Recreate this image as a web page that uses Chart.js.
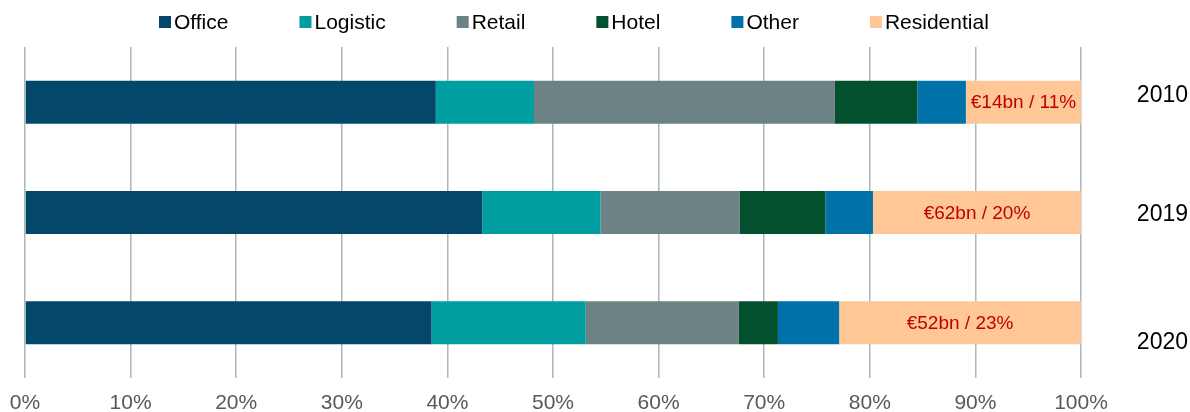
<!DOCTYPE html>
<html>
<head>
<meta charset="utf-8">
<script src="https://cdn.jsdelivr.net/npm/chart.js@4"></script>
<style>
  html, body { margin: 0; padding: 0; background: #ffffff; }
  #wrap { width: 1190px; height: 412px; }
</style>
</head>
<body>
<div id="wrap"><canvas id="mixChart" width="1190" height="412"></canvas></div>
<script>
// years (top to bottom)
var years = ["2010", "2019", "2020"];

// share of investment volume, %
var office      = [38.9, 43.3, 38.5];
var logistic    = [9.3, 11.2, 14.6];
var retail      = [28.5, 13.2, 14.5];
var hotel       = [7.8, 8.1, 3.7];
var other       = [4.6, 4.5, 5.8];
var residential = [10.9, 19.7, 22.9];

// labels shown inside the residential segment
var residentialLabels = ["€14bn / 11%", "€62bn / 20%", "€52bn / 23%"];

var xTicks = [0, 10, 20, 30, 40, 50, 60, 70, 80, 90, 100];

var fontFamily = "'Liberation Sans', Arial, sans-serif";

// writes the euro figure in the middle of each residential block
var residentialText = {
    id: 'residentialText',
    afterDatasetsDraw: function(chart) {
        var ctx = chart.ctx;
        var meta = chart.getDatasetMeta(5);
        ctx.save();
        ctx.font = "19px " + fontFamily;
        ctx.fillStyle = "#C00000";
        ctx.textAlign = "center";
        ctx.textBaseline = "middle";
        meta.data.forEach(function(bar, i) {
            var cx = (bar.x + bar.base) / 2;
            ctx.fillText(residentialLabels[i], cx, bar.y + 1);
        });
        ctx.restore();
    }
};

// year names to the right of the plot
var yearText = {
    id: 'yearText',
    afterDraw: function(chart) {
        var ctx = chart.ctx;
        var yScale = chart.scales.y;
        var shift = [-6, 2, 20];
        ctx.save();
        ctx.font = "23px " + fontFamily;
        ctx.fillStyle = "#000000";
        ctx.textAlign = "right";
        ctx.textBaseline = "middle";
        years.forEach(function(yr, i) {
            ctx.fillText(yr, 1188, yScale.getPixelForValue(i) + shift[i]);
        });
        ctx.restore();
    }
};

// one-row legend above the plot, items ~70px apart
var rowLegend = {
    id: 'rowLegend',
    afterDraw: function(chart) {
        var ctx = chart.ctx;
        var x = 159;
        var y = 22;
        ctx.save();
        ctx.font = "21px " + fontFamily;
        ctx.textBaseline = "middle";
        ctx.textAlign = "left";
        chart.data.datasets.forEach(function(ds) {
            ctx.fillStyle = ds.backgroundColor;
            ctx.fillRect(x, y - 6, 12, 12);
            ctx.fillStyle = "#000000";
            ctx.fillText(ds.label, x + 15, y + 1);
            x += 15 + ctx.measureText(ds.label).width + 71;
        });
        ctx.restore();
    }
};

function makeSet(label, data, color) {
    return {
        label: label,
        data: data,
        backgroundColor: color,
        borderWidth: 0,
        barPercentage: 0.39,
        categoryPercentage: 1.0
    };
}

var ctx = document.getElementById("mixChart").getContext('2d');
var mixChart = new Chart(ctx, {
    type: 'bar',
    data: {
        labels: years,
        datasets: [
            makeSet('Office', office, '#03476A'),
            makeSet('Logistic', logistic, '#009EA1'),
            makeSet('Retail', retail, '#6D8285'),
            makeSet('Hotel', hotel, '#03502F'),
            makeSet('Other', other, '#0071A9'),
            makeSet('Residential', residential, '#FFC796')
        ]
    },
    options: {
        responsive: false,
        animation: false,
        indexAxis: 'y',
        layout: {
            padding: { left: 25, right: 109, top: 47, bottom: -17 }
        },
        plugins: {
            tooltip: { enabled: false },
            legend: { display: false }
        },
        scales: {
            x: {
                stacked: true,
                min: 0,
                max: 100,
                afterBuildTicks: function(scale) {
                    scale.ticks = xTicks.map(function(v) { return { value: v }; });
                },
                afterFit: function(scale) {
                    // let the layout padding alone decide the side margins
                    scale.paddingLeft = 0;
                    scale.paddingRight = 0;
                },
                grid: {
                    color: '#AAB8BB',
                    lineWidth: 1.5,
                    drawTicks: false
                },
                border: { display: false },
                ticks: {
                    color: '#595959',
                    padding: 13,
                    maxRotation: 0,
                    font: { family: fontFamily, size: 21 },
                    callback: function(v) { return v + '%'; }
                }
            },
            y: {
                stacked: true,
                display: false
            }
        }
    },
    plugins: [residentialText, yearText, rowLegend]
});
</script>
</body>
</html>
